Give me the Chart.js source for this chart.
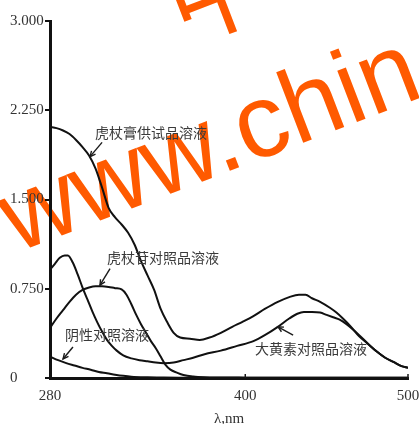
<!DOCTYPE html>
<html>
<head>
<meta charset="utf-8">
<script src="https://cdn.jsdelivr.net/npm/chart.js@4/dist/chart.umd.min.js"></script>
<style>
html,body{margin:0;padding:0;background:#fff;}
canvas{display:block;}
</style>
</head>
<body>
<canvas id="c" width="419" height="424"></canvas>
<script>
// ---- data (wavelength in nm, absorbance) ----
const seriesNames = ["虎杖膏供试品溶液", "虎杖苷对照品溶液", "大黄素对照品溶液", "阴性对照溶液"];

const wlSample = [280,284,288,292,296,300,304,308,312,316,320,324,328,332,336,340,344,348,352,356,360,366,372,378,385,392,398,405,412,420,427,433,437,441,446,452,456,460,465,470,476,481,486,491,496,500];
const absSample = [2.11,2.10,2.08,2.05,2.00,1.94,1.87,1.76,1.60,1.43,1.35,1.29,1.22,1.12,0.98,0.86,0.74,0.58,0.47,0.38,0.34,0.33,0.32,0.34,0.38,0.43,0.47,0.52,0.58,0.64,0.68,0.70,0.70,0.67,0.64,0.59,0.55,0.50,0.43,0.35,0.28,0.22,0.17,0.135,0.10,0.085];

const wlPolydatin = [280,284,288,292,296,300,304,308,312,316,320,324,327,330,333,336,339,342,345,348,351,354,358,362,368,375,385,400,420,440,460,480,500];
const absPolydatin = [0.42,0.50,0.57,0.64,0.70,0.74,0.76,0.77,0.77,0.765,0.755,0.745,0.70,0.62,0.53,0.45,0.38,0.31,0.25,0.18,0.11,0.07,0.045,0.025,0.012,0.006,0.004,0.003,0.002,0.002,0.002,0.002,0.002];

const wlEmodin = [280,283,286,289,291,294,297,300,303,306,309,312,315,318,321,325,330,335,340,345,350,356,362,368,375,385,395,405,412,420,427,432,436,441,446,450,454,458,462,466,470,476,481,486,491,496,500];
const absEmodin = [0.91,0.96,1.01,1.03,1.03,0.97,0.87,0.76,0.66,0.56,0.47,0.39,0.32,0.27,0.23,0.19,0.165,0.15,0.14,0.13,0.125,0.13,0.15,0.17,0.20,0.23,0.27,0.31,0.36,0.43,0.50,0.54,0.555,0.555,0.55,0.53,0.51,0.49,0.455,0.41,0.36,0.28,0.22,0.17,0.135,0.10,0.085];

const wlBlank = [280,285,290,295,300,305,310,315,320,325,330,340,350,360,380,400,450,500];
const absBlank = [0.18,0.15,0.125,0.105,0.085,0.07,0.05,0.04,0.028,0.018,0.011,0.006,0.004,0.003,0.002,0.002,0.002,0.002];

const xTicks = [280, 400, 500];
const yTicks = [0, 0.75, 1.5, 2.25, 3.0];
const xTitle = "λ,nm";

// label anchors in data units: [textLeftX, textY, arrowTailX, arrowTailY, arrowHeadX, arrowHeadY]
const labelAnchors = [
  [307.7, 2.06, 312.0, 1.98, 304.6, 1.86],
  [315.0, 1.01, 316.9, 0.92, 310.7, 0.78],
  [406.0, 0.25, 429.4, 0.36, 420.1, 0.43],
  [289.2, 0.36, 294.1, 0.26, 288.0, 0.16]
];

function pts(xs, ys){ return xs.map((x,i)=>({x:x, y:ys[i]})); }

const watermarkPlugin = {
  id: 'wm',
  beforeDraw(chart){
    const ctx = chart.ctx;
    ctx.save();
    ctx.fillStyle = '#ff5a00';
    ctx.translate(16, 253);
    ctx.rotate(-21*Math.PI/180);
    ctx.font = '104px "Liberation Sans", Arial, sans-serif';
    ctx.textBaseline = 'alphabetic';
    ctx.fillText('www.chin', 0, 0);
    ctx.font = '104px "Noto Sans CJK SC", sans-serif';
    ctx.fillText('中', 230, -136);
    ctx.restore();
  }
};

const labelPlugin = {
  id: 'labels',
  afterDatasetsDraw(chart){
    const ctx = chart.ctx;
    const xs = chart.scales.x, ys = chart.scales.y;
    ctx.save();
    ctx.font = '14px "Noto Sans CJK SC", sans-serif';
    ctx.fillStyle = '#3a3a3a';
    ctx.textBaseline = 'middle';
    ctx.textAlign = 'left';
    ctx.strokeStyle = '#1a1a1a';
    ctx.lineWidth = 1.4;
    labelAnchors.forEach((a,i)=>{
      ctx.fillText(seriesNames[i], xs.getPixelForValue(a[0]), ys.getPixelForValue(a[1]));
      const tx = xs.getPixelForValue(a[2]), ty = ys.getPixelForValue(a[3]);
      const hx = xs.getPixelForValue(a[4]), hy = ys.getPixelForValue(a[5]);
      ctx.beginPath(); ctx.moveTo(tx,ty); ctx.lineTo(hx,hy); ctx.stroke();
      const ang = Math.atan2(hy-ty, hx-tx), L = 6, s = 0.45;
      ctx.beginPath();
      ctx.moveTo(hx - L*Math.cos(ang-s), hy - L*Math.sin(ang-s));
      ctx.lineTo(hx, hy);
      ctx.lineTo(hx - L*Math.cos(ang+s), hy - L*Math.sin(ang+s));
      ctx.stroke();
    });
    // small inward x ticks
    ctx.lineWidth = 1.5;
    xTicks.slice(1).forEach(v=>{
      const px = xs.getPixelForValue(v);
      ctx.beginPath(); ctx.moveTo(px, ys.bottom); ctx.lineTo(px, ys.bottom-4); ctx.stroke();
    });
    ctx.restore();
  }
};

const lineStyle = {borderColor:'#111', borderWidth:2, pointRadius:0, tension:0.4, fill:false, cubicInterpolationMode:'monotone'};

new Chart(document.getElementById('c'), {
  type: 'line',
  data: {
    datasets: [
      Object.assign({label: seriesNames[0], data: pts(wlSample, absSample)}, lineStyle),
      Object.assign({label: seriesNames[1], data: pts(wlPolydatin, absPolydatin)}, lineStyle),
      Object.assign({label: seriesNames[2], data: pts(wlEmodin, absEmodin)}, lineStyle),
      Object.assign({label: seriesNames[3], data: pts(wlBlank, absBlank)}, lineStyle)
    ]
  },
  options: {
    responsive: false,
    devicePixelRatio: 1,
    animation: false,
    layout: {padding: {left: 10, right: 11, top: 21, bottom: -4}},
    plugins: {legend: {display: false}, tooltip: {enabled: false}},
    scales: {
      x: {
        type: 'linear', min: 280, max: 500,
        afterBuildTicks: s => { s.ticks = xTicks.map(v=>({value:v})); },
        afterFit: s => { s.height = 50; s.paddingLeft = 0; s.paddingRight = 0; },
        grid: {display: false},
        border: {display: true, width: 3, color: '#111'},
        ticks: {color: '#333', font: {family: '"Liberation Serif", serif', size: 15}, padding: 1, maxRotation: 0, callback: v => String(v)},
        title: {display: true, text: xTitle, color: '#333', font: {family: '"Liberation Serif", serif', size: 15}, padding: {top: 2, bottom: 0}}
      },
      y: {
        type: 'linear', min: 0, max: 3,
        afterBuildTicks: s => { s.ticks = yTicks.map(v=>({value:v})); },
        afterFit: s => { s.width = 40; s.paddingTop = 0; s.paddingBottom = 0; },
        grid: {drawOnChartArea: false, drawTicks: true, tickLength: 5, color: '#111', lineWidth: 2},
        border: {display: true, width: 3, color: '#111'},
        ticks: {color: '#333', crossAlign: 'far', font: {family: '"Liberation Serif", serif', size: 15}, padding: 2,
          callback: v => v === 0 ? '0' : Number(v).toFixed(3)}
      }
    }
  },
  plugins: [watermarkPlugin, labelPlugin]
});
</script>
</body>
</html>
